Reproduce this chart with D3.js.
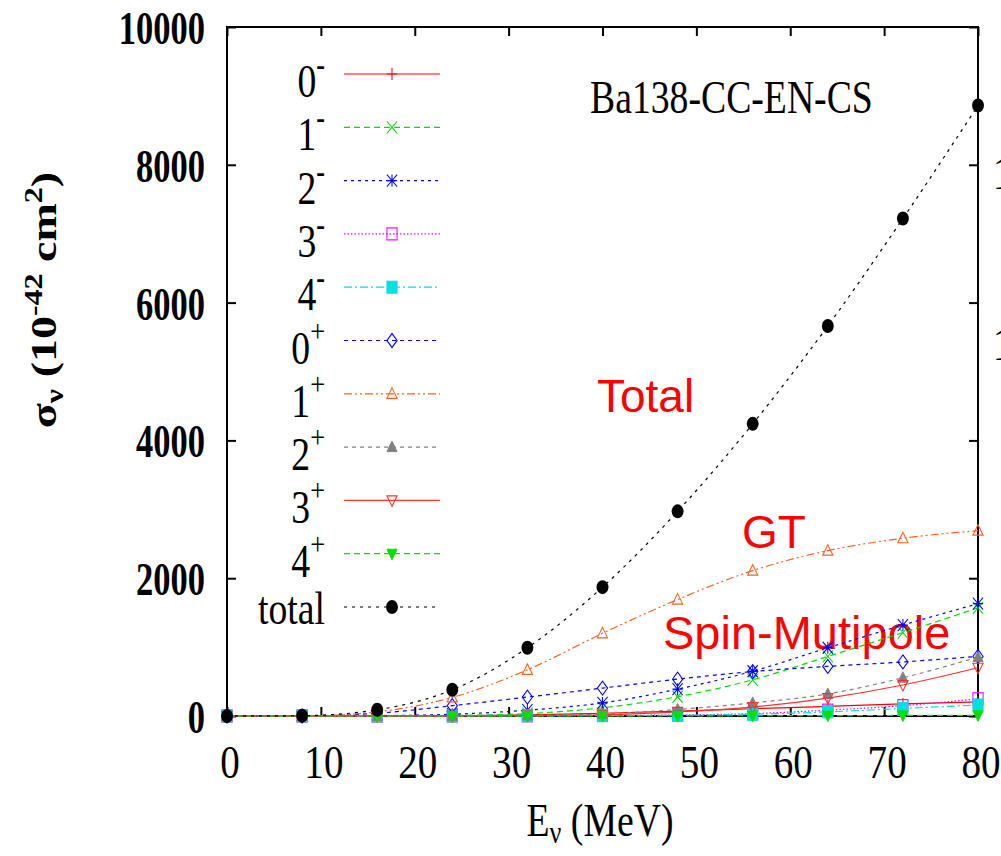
<!DOCTYPE html>
<html lang="en">
<head>
<meta charset="UTF-8">
<title>Ba138-CC-EN-CS</title>
<script src="https://d3js.org/d3.v7.min.js"></script>
<style>
    body { margin: 0; background: #fff; }
    svg { display: block; background: #fff; }
    .serif { font-family: "Liberation Serif", "Times New Roman", serif; }
    .sans { font-family: "Liberation Sans", Arial, sans-serif; }
</style>
</head>
<body>
<svg id="chart" width="1001" height="856"></svg>
<script>
// neutrino energy (MeV)
const energy = [0, 8, 16, 24, 32, 40, 48, 56, 64, 72, 80];

// cross sections per multipole (10^-42 cm^2)
const cs0m = [0, 0, 0, 2, 15, 40, 70, 105, 140, 175, 205];
const cs1m = [0, 0, 2, 8, 35, 120, 280, 525, 865, 1210, 1570];
const cs2m = [0, 0, 5, 25, 85, 190, 390, 650, 990, 1320, 1630];
const cs3m = [0, 0, 0, 1, 3, 8, 15, 35, 85, 150, 250];
const cs4m = [0, 0, 0, 0, 2, 5, 10, 25, 60, 110, 160];
const cs0p = [0, 0, 40, 150, 275, 405, 535, 645, 720, 785, 865];
const cs1p = [0, 0, 60, 270, 670, 1200, 1690, 2110, 2400, 2580, 2690];
const cs2p = [0, 0, 0, 2, 10, 30, 95, 190, 320, 555, 855];
const cs3p = [0, 0, 0, 1, 5, 18, 60, 130, 260, 450, 700];
const cs4p = [0, 0, 0, 0, 0, 1, 2, 4, 6, 8, 10];
const csTotal = [0, 5, 90, 380, 990, 1870, 2970, 4240, 5660, 7220, 8860];

const xTicks = [0, 10, 20, 30, 40, 50, 60, 70, 80];
const yTicks = [0, 2000, 4000, 6000, 8000, 10000];

// legend entries: digit, superscript, values, colour, dash, marker
const series = [
    { d: "0", s: "-", v: cs0m, color: "#ff0000", dash: null, mk: "plus" },
    { d: "1", s: "-", v: cs1m, color: "#00e000", dash: "6,4", mk: "cross" },
    { d: "2", s: "-", v: cs2m, color: "#0000ff", dash: "3,4", mk: "star" },
    { d: "3", s: "-", v: cs3m, color: "#ff00ff", dash: "1.5,2", mk: "square" },
    { d: "4", s: "-", v: cs4m, color: "#00e0e0", dash: "8,3,2,3", mk: "squareFill" },
    { d: "0", s: "+", v: cs0p, color: "#0000ff", dash: "4,4", mk: "diamond" },
    { d: "1", s: "+", v: cs1p, color: "#ff6020", dash: "8,3,2,3,2,3", mk: "tri" },
    { d: "2", s: "+", v: cs2p, color: "#808080", dash: "4,4", mk: "triFill" },
    { d: "3", s: "+", v: cs3p, color: "#ff3030", dash: null, mk: "triDown" },
    { d: "4", s: "+", v: cs4p, color: "#00e000", dash: "6,4", mk: "triDownFill" },
    { d: "total", s: "", v: csTotal, color: "#000000", dash: "3,5", mk: "dot" }
];

const frame = { left: 227, right: 978, top: 27, bottom: 716 };
const sx = 0.82; // glyphs of the original are squeezed sideways

const svg = d3.select("#chart");

const x = d3.scaleLinear().domain([0, 80]).range([frame.left, frame.right]);
const y = d3.scaleLinear().domain([0, 10000]).range([frame.bottom, frame.top]);

// text helper with horizontal squeeze
function label(x0, y0, txt, opt) {
    const t = svg.append("text")
        .attr("class", opt.cls || "serif")
        .attr("transform", `translate(${x0},${y0}) scale(${opt.scale || sx},1)`)
        .attr("font-size", opt.size || 46)
        .attr("font-weight", opt.weight || "normal")
        .attr("text-anchor", opt.anchor || "start")
        .attr("fill", opt.fill || "#000");
    if (txt != null) t.text(txt);
    return t;
}

// frame
svg.append("rect")
    .attr("x", frame.left).attr("y", frame.top)
    .attr("width", frame.right - frame.left)
    .attr("height", frame.bottom - frame.top)
    .attr("fill", "none").attr("stroke", "#000").attr("stroke-width", 2);

// inward ticks via d3 axes
const tk = 9;
svg.append("g").attr("transform", `translate(0,${frame.bottom})`)
    .call(d3.axisTop(x).tickValues(xTicks).tickSize(tk).tickFormat(""));
svg.append("g").attr("transform", `translate(0,${frame.top})`)
    .call(d3.axisBottom(x).tickValues(xTicks).tickSize(tk).tickFormat(""));
svg.append("g").attr("transform", `translate(${frame.left},0)`)
    .call(d3.axisRight(y).tickValues(yTicks).tickSize(tk).tickFormat(""));
svg.append("g").attr("transform", `translate(${frame.right},0)`)
    .call(d3.axisLeft(y).tickValues(yTicks).tickSize(tk).tickFormat(""));
svg.selectAll(".domain").remove();
svg.selectAll(".tick line").attr("stroke", "#000").attr("stroke-width", 2);

// tick labels
xTicks.forEach(t => label(x(t) + 3, frame.bottom + 62, String(t), { anchor: "middle", scale: 0.85 }));
yTicks.forEach(t => label(205, y(t) + 17, String(t), { anchor: "end", weight: "bold", scale: 0.75 }));

// axis titles
const xt = label(600, 836, null, { anchor: "middle" });
xt.append("tspan").text("E");
xt.append("tspan").attr("font-size", 32).attr("dy", 7).text("ν");
xt.append("tspan").attr("dy", -7).text(" (MeV)");

const yt = svg.append("text")
    .attr("class", "serif")
    .attr("transform", "translate(56,300) rotate(-90) scale(1,0.8)")
    .attr("font-size", 46).attr("font-weight", "bold")
    .attr("text-anchor", "middle");
yt.append("tspan").text("σ");
yt.append("tspan").attr("font-size", 32).attr("dy", 9).text("ν");
yt.append("tspan").attr("dy", -9).text(" (10");
yt.append("tspan").attr("font-size", 32).attr("dy", -18).text("-42");
yt.append("tspan").attr("dy", 18).text(" cm");
yt.append("tspan").attr("font-size", 32).attr("dy", -18).text("2");
yt.append("tspan").attr("dy", 18).text(")");

// title and annotations
label(590, 113, "Ba138-CC-EN-CS", {});
label(597, 412, "Total", { cls: "sans", scale: 1, fill: "#ff0000" });
label(742, 548, "GT", { cls: "sans", scale: 1, fill: "#ff0000" });
label(663, 649, "Spin-Mutipole", { cls: "sans", scale: 1, size: 47, fill: "#ff0000" });

// clipped labels of the neighbouring panel
label(993, 189, "1", {});
label(993, 360, "1", {});

// markers
function marker(g, type, px, py, color) {
    const m = g.append("g").attr("transform", `translate(${px},${py}) scale(0.85,1)`);
    const r = 6;
    const st = sel => sel.attr("fill", "none").attr("stroke", color).attr("stroke-width", 1.2);
    const fl = sel => sel.attr("fill", color).attr("stroke", color).attr("stroke-width", 1);
    switch (type) {
        case "plus":
            st(m.append("path").attr("d", `M${-r},0H${r}M0,${-r}V${r}`)); break;
        case "cross":
            st(m.append("path").attr("d", `M${-r},${-r}L${r},${r}M${-r},${r}L${r},${-r}`)); break;
        case "star":
            st(m.append("path").attr("d", `M${-r},0H${r}M0,${-r}V${r}M${-r},${-r}L${r},${r}M${-r},${r}L${r},${-r}`)); break;
        case "square":
            st(m.append("rect").attr("x", -r).attr("y", -r).attr("width", 2 * r).attr("height", 2 * r)); break;
        case "squareFill":
            fl(m.append("rect").attr("x", -r).attr("y", -r).attr("width", 2 * r).attr("height", 2 * r)); break;
        case "diamond":
            st(m.append("path").attr("d", `M0,${-r - 1}L${r},0L0,${r + 1}L${-r},0Z`)); break;
        case "tri":
            st(m.append("path").attr("d", `M0,${-r}L${r},${r * 0.75}L${-r},${r * 0.75}Z`)); break;
        case "triFill":
            fl(m.append("path").attr("d", `M0,${-r}L${r},${r * 0.75}L${-r},${r * 0.75}Z`)); break;
        case "triDown":
            st(m.append("path").attr("d", `M0,${r}L${r},${-r * 0.75}L${-r},${-r * 0.75}Z`)); break;
        case "triDownFill":
            fl(m.append("path").attr("d", `M0,${r}L${r},${-r * 0.75}L${-r},${-r * 0.75}Z`)); break;
        case "dot":
            m.append("circle").attr("r", r + 1).attr("fill", color); break;
    }
}

const line = d3.line()
    .x((d, i) => x(energy[i]))
    .y(d => y(d))
    .curve(d3.curveMonotoneX);

// legend geometry
const legY0 = 74, legStep = 53.3;
const legX1 = 344, legX2 = 440, legMk = 392, legText = 325;

series.forEach((s, k) => {
    const g = svg.append("g");
    g.append("path")
        .attr("d", line(s.v))
        .attr("fill", "none")
        .attr("stroke", s.color)
        .attr("stroke-width", 1.2)
        .attr("stroke-dasharray", s.dash);
    s.v.forEach((v, i) => marker(g, s.mk, x(energy[i]), y(v), s.color));

    // legend row
    const ly = legY0 + k * legStep;
    g.append("line")
        .attr("x1", legX1).attr("x2", legX2)
        .attr("y1", ly).attr("y2", ly)
        .attr("stroke", s.color).attr("stroke-width", 1.2)
        .attr("stroke-dasharray", s.dash);
    marker(g, s.mk, legMk, ly, s.color);

    if (s.s) {
        const t = label(legText, ly + 23, null, { anchor: "end" });
        t.append("tspan").text(s.d);
        t.append("tspan")
            .attr("font-size", 32)
            .attr("font-weight", s.s === "-" ? "bold" : "normal")
            .attr("dy", -22)
            .text(s.s);
    } else {
        label(legText, ly + 17, s.d, { anchor: "end" });
    }
});
</script>
</body>
</html>
